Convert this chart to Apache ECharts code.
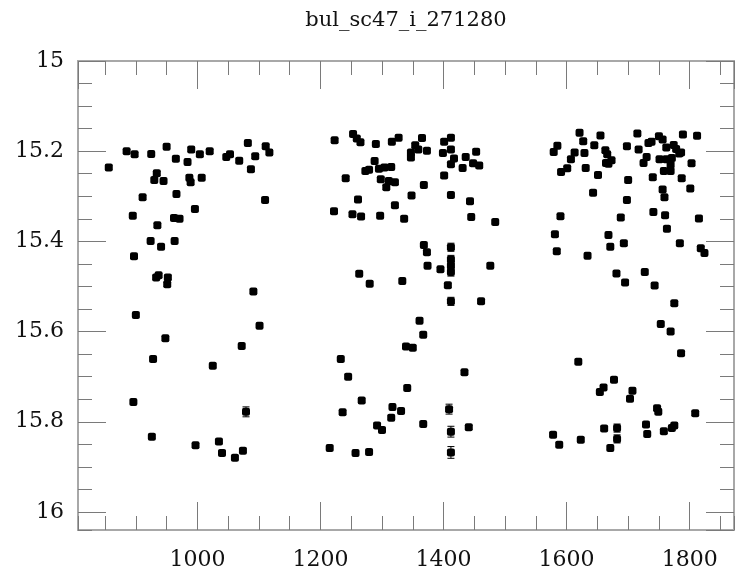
<!DOCTYPE html>
<html>
<head>
<meta charset="utf-8">
<script src="https://cdn.jsdelivr.net/npm/echarts@6/dist/echarts.min.js"></script>
<style>
  html, body { margin: 0; padding: 0; background: #fff; }
  #chart { width: 735px; height: 578px; }
</style>
</head>
<body>
<div id="chart"></div>
<script>
// Light curve of bul_sc47_i_271280: [time, magnitude, error] per observing season
const seasonA = [
  [856,15.236,0.005],[885,15.200,0.005],[898,15.207,0.005],[925,15.206,0.005],[950,15.190,0.005],
  [965,15.217,0.005],[984,15.224,0.005],[990,15.196,0.005],[1004,15.207,0.005],[1020,15.200,0.005],
  [1047,15.213,0.005],[1053,15.207,0.005],[1068,15.221,0.005],[1082,15.182,0.005],[1094,15.211,0.005],
  [1087,15.240,0.005],[1111,15.189,0.005],[1117,15.203,0.005],[934,15.249,0.005],[930,15.264,0.005],
  [945,15.266,0.005],[987,15.259,0.005],[989,15.269,0.005],[1007,15.259,0.005],[911,15.302,0.005],
  [966,15.295,0.005],[996,15.328,0.005],[1110,15.308,0.005],[895,15.343,0.005],[962,15.348,0.005],
  [971,15.350,0.005],[935,15.364,0.005],[924,15.399,0.005],[941,15.412,0.005],[963,15.399,0.005],
  [897,15.433,0.005],[933,15.480,0.005],[937,15.475,0.005],[952,15.480,0.005],[951,15.495,0.005],
  [1091,15.511,0.005],[900,15.563,0.005],[1101,15.587,0.005],[948,15.615,0.005],[1072,15.632,0.005],
  [928,15.661,0.005],[1025,15.676,0.005],[896,15.756,0.005],[1079,15.778,0.011],[926,15.833,0.005],
  [997,15.852,0.005],[1035,15.844,0.005],[1040,15.869,0.005],[1061,15.880,0.005],[1074,15.864,0.005]
];
const seasonB = [
  [1223,15.176,0.005],[1253,15.162,0.005],[1259,15.172,0.005],[1265,15.180,0.005],[1290,15.184,0.005],
  [1316,15.179,0.005],[1327,15.170,0.005],[1365,15.171,0.005],[1354,15.187,0.005],[1347,15.203,0.005],
  [1347,15.214,0.005],[1359,15.196,0.005],[1373,15.199,0.005],[1401,15.179,0.005],[1412,15.170,0.005],
  [1399,15.204,0.005],[1412,15.196,0.005],[1417,15.216,0.005],[1412,15.229,0.005],[1436,15.213,0.005],
  [1453,15.201,0.005],[1431,15.237,0.005],[1448,15.227,0.005],[1458,15.232,0.005],[1288,15.222,0.005],
  [1273,15.244,0.005],[1279,15.241,0.005],[1295,15.239,0.005],[1304,15.236,0.005],[1315,15.235,0.005],
  [1241,15.260,0.005],[1298,15.262,0.005],[1311,15.266,0.005],[1321,15.269,0.005],[1307,15.280,0.005],
  [1368,15.275,0.005],[1401,15.254,0.005],[1348,15.298,0.005],[1412,15.297,0.005],[1443,15.311,0.005],
  [1261,15.307,0.005],[1321,15.320,0.005],[1222,15.333,0.005],[1252,15.340,0.005],[1266,15.345,0.005],
  [1297,15.343,0.005],[1336,15.350,0.005],[1445,15.346,0.005],[1484,15.357,0.005],[1368,15.408,0.005],
  [1373,15.424,0.005],[1412,15.413,0.009],[1412,15.440,0.009],[1374,15.454,0.005],[1395,15.462,0.005],
  [1412,15.454,0.009],[1412,15.468,0.009],[1476,15.454,0.005],[1263,15.472,0.005],[1280,15.494,0.005],
  [1333,15.488,0.005],[1407,15.497,0.005],[1412,15.533,0.009],[1461,15.533,0.005],[1361,15.576,0.005],
  [1367,15.607,0.005],[1339,15.633,0.005],[1350,15.636,0.005],[1233,15.661,0.005],[1245,15.700,0.005],
  [1434,15.690,0.005],[1341,15.725,0.005],[1267,15.753,0.005],[1236,15.779,0.005],[1317,15.767,0.005],
  [1331,15.776,0.005],[1315,15.791,0.005],[1292,15.808,0.005],[1300,15.818,0.005],[1367,15.805,0.005],
  [1409,15.772,0.011],[1412,15.822,0.012],[1441,15.812,0.005],[1215,15.858,0.005],[1257,15.869,0.005],
  [1279,15.867,0.005],[1412,15.868,0.013]
];
const seasonC = [
  [1621,15.159,0.005],[1655,15.165,0.005],[1715,15.161,0.005],[1750,15.167,0.005],[1756,15.174,0.005],
  [1789,15.163,0.005],[1812,15.166,0.005],[1627,15.178,0.005],[1645,15.187,0.005],[1585,15.188,0.005],
  [1579,15.202,0.005],[1613,15.203,0.005],[1629,15.204,0.005],[1663,15.198,0.005],[1666,15.207,0.005],
  [1698,15.189,0.005],[1717,15.196,0.005],[1733,15.182,0.005],[1738,15.179,0.005],[1762,15.192,0.005],
  [1774,15.186,0.005],[1778,15.195,0.005],[1786,15.203,0.005],[1730,15.213,0.005],[1725,15.226,0.005],
  [1751,15.218,0.005],[1762,15.218,0.005],[1771,15.215,0.005],[1769,15.230,0.005],[1783,15.205,0.005],
  [1803,15.227,0.005],[1607,15.218,0.005],[1601,15.238,0.005],[1591,15.246,0.005],[1631,15.237,0.005],
  [1664,15.226,0.005],[1673,15.220,0.005],[1668,15.228,0.005],[1651,15.253,0.005],[1758,15.244,0.005],
  [1769,15.244,0.005],[1700,15.264,0.005],[1740,15.258,0.005],[1787,15.260,0.005],[1643,15.292,0.005],
  [1756,15.285,0.005],[1759,15.302,0.005],[1801,15.283,0.005],[1698,15.308,0.005],[1590,15.344,0.005],
  [1688,15.347,0.005],[1741,15.335,0.005],[1760,15.342,0.005],[1815,15.349,0.005],[1581,15.384,0.005],
  [1668,15.386,0.005],[1763,15.372,0.005],[1671,15.412,0.005],[1693,15.404,0.005],[1784,15.404,0.005],
  [1584,15.422,0.005],[1634,15.432,0.005],[1818,15.415,0.005],[1824,15.426,0.005],[1681,15.471,0.005],
  [1695,15.491,0.005],[1727,15.468,0.005],[1743,15.498,0.005],[1775,15.537,0.005],[1753,15.583,0.005],
  [1769,15.600,0.005],[1786,15.648,0.005],[1619,15.667,0.005],[1677,15.707,0.005],[1660,15.724,0.005],
  [1654,15.734,0.005],[1707,15.731,0.005],[1703,15.749,0.005],[1747,15.770,0.005],[1749,15.778,0.005],
  [1809,15.781,0.005],[1578,15.829,0.005],[1588,15.851,0.005],[1623,15.840,0.005],[1661,15.815,0.005],
  [1682,15.814,0.009],[1682,15.838,0.009],[1671,15.858,0.005],[1729,15.806,0.005],[1731,15.827,0.005],
  [1758,15.821,0.005],[1771,15.814,0.005],[1775,15.808,0.005]
];

const titleText = 'bul_sc47_i_271280';
const xRange = [806, 1872];
const yRange = [15, 16.04];
const xMajorStep = 200, xMinorStep = 50;
const yMajorStep = 0.2, yMinorStep = 0.05;

const observations = seasonA.concat(seasonB, seasonC);

const FONT = 'DejaVu Serif';
const TICK_COLOR = '#7a7a7a';
const MAJOR_LEN = 28, MINOR_LEN = 14;

function plainNumber(v) {
  return String(Math.round(v * 1000) / 1000);
}

function xAxisDef(position, step, len, labels) {
  return {
    type: 'value', position: position, gridIndex: 0,
    min: xRange[0], max: xRange[1],
    minInterval: step, maxInterval: step,
    axisLine: { show: false, onZero: false },
    axisTick: { show: true, inside: true, length: len, lineStyle: { color: TICK_COLOR, width: 1 } },
    axisLabel: {
      show: labels, showMinLabel: false, showMaxLabel: false, formatter: plainNumber,
      fontFamily: FONT, fontSize: 22, color: '#111', margin: 19
    },
    splitLine: { show: false }
  };
}
function yAxisDef(position, step, len, labels) {
  return {
    type: 'value', position: position, gridIndex: 0, inverse: true,
    min: yRange[0], max: yRange[1],
    minInterval: step, maxInterval: step,
    axisLine: { show: false, onZero: false },
    axisTick: { show: true, inside: true, length: len, lineStyle: { color: TICK_COLOR, width: 1 } },
    axisLabel: {
      show: labels, showMinLabel: true, showMaxLabel: false, formatter: plainNumber,
      fontFamily: FONT, fontSize: 22, color: '#111', margin: 14
    },
    splitLine: { show: false }
  };
}

// vertical error bar with small caps, positioned through the axes
function renderErrorBar(params, api) {
  const t = api.value(0), m = api.value(1), e = api.value(2);
  const p1 = api.coord([t, m - e]);
  const p2 = api.coord([t, m + e]);
  const hw = 3.5;
  const st = { stroke: '#000', lineWidth: 1 };
  return {
    type: 'group',
    children: [
      { type: 'line', shape: { x1: p1[0], y1: p1[1], x2: p2[0], y2: p2[1] }, style: st },
      { type: 'line', shape: { x1: p1[0] - hw, y1: p1[1], x2: p1[0] + hw, y2: p1[1] }, style: st },
      { type: 'line', shape: { x1: p2[0] - hw, y1: p2[1], x2: p2[0] + hw, y2: p2[1] }, style: st }
    ]
  };
}

const chart = echarts.init(document.getElementById('chart'), null, { renderer: 'canvas' });
chart.setOption({
  animation: false,
  backgroundColor: '#fff',
  title: {
    text: titleText, left: 406, top: 10, textAlign: 'center', padding: 0,
    textStyle: { fontFamily: FONT, fontSize: 21, fontWeight: 'normal', color: '#111' }
  },
  grid: {
    left: 78, top: 61, width: 656, height: 469,
    show: true, borderColor: '#a8a8a8', borderWidth: 2, backgroundColor: 'transparent'
  },
  xAxis: [
    xAxisDef('bottom', xMajorStep, MAJOR_LEN, true),
    xAxisDef('bottom', xMinorStep, MINOR_LEN, false),
    xAxisDef('top', xMajorStep, MAJOR_LEN, false),
    xAxisDef('top', xMinorStep, MINOR_LEN, false)
  ],
  yAxis: [
    yAxisDef('left', yMajorStep, MAJOR_LEN, true),
    yAxisDef('left', yMinorStep, MINOR_LEN, false),
    yAxisDef('right', yMajorStep, MAJOR_LEN, false),
    yAxisDef('right', yMinorStep, MINOR_LEN, false)
  ],
  series: [
    {
      type: 'custom', xAxisIndex: 0, yAxisIndex: 0,
      renderItem: renderErrorBar,
      data: observations, z: 2, silent: true
    },
    {
      type: 'scatter', xAxisIndex: 0, yAxisIndex: 0,
      data: observations.map(o => [o[0], o[1]]),
      symbol: 'roundRect', symbolSize: 8,
      itemStyle: { color: '#000', opacity: 1 }, z: 3, silent: true
    }
  ]
});
</script>
</body>
</html>
